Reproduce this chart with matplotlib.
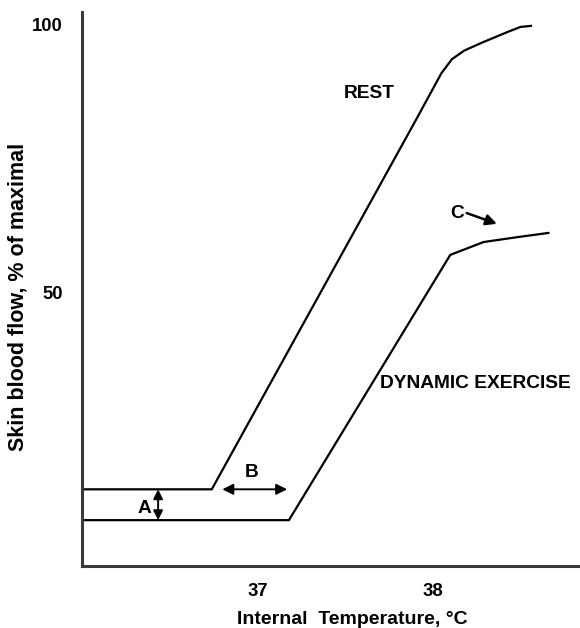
import matplotlib
matplotlib.use("Agg")
import matplotlib.pyplot as plt

plt.rcParams['font.family'] = ['Liberation Sans', 'DejaVu Sans']
plt.rcParams['font.weight'] = 'bold'

# Skin blood flow (% of maximal) vs internal temperature (°C)
rest_temp = [36.0, 36.74, 37.91, 38.05, 38.11, 38.18, 38.29, 38.43, 38.50, 38.56]
rest_flow = [13.4, 13.4, 82.6, 91.0, 93.6, 95.2, 96.8, 98.7, 99.6, 99.8]

exercise_temp = [36.0, 37.18, 38.10, 38.29, 38.48, 38.66]
exercise_flow = [7.65, 7.65, 57.1, 59.5, 60.4, 61.2]

x_ticks = [37, 38]
x_tick_labels = ["37", "38"]
y_ticks = [50, 100]
y_tick_labels = ["50", "100"]

fig = plt.figure(figsize=(5.8, 6.28), dpi=100)
ax = fig.add_axes([0.1414, 0.0987, 0.8586, 0.8823])

ax.plot(rest_temp, rest_flow, color='black', lw=1.6, solid_joinstyle='miter')
ax.plot(exercise_temp, exercise_flow, color='black', lw=1.6, solid_joinstyle='miter')

ax.set_xlim(36.0, 38.84)
ax.set_ylim(-0.9, 102.4)

ax.set_xticks(x_ticks)
ax.set_xticklabels(x_tick_labels)
ax.set_yticks(y_ticks)
ax.set_yticklabels(y_tick_labels)
ax.tick_params(axis='both', length=0, labelsize=13.3)
ax.tick_params(axis='x', pad=12)
ax.tick_params(axis='y', pad=14)

for side in ('top', 'right'):
    ax.spines[side].set_visible(False)
for side in ('left', 'bottom'):
    ax.spines[side].set_linewidth(2.2)
    ax.spines[side].set_color('#3a3a3a')

ax.set_xlabel("Internal  Temperature, °C", fontsize=14, fontweight='bold')
ax.xaxis.set_label_coords(0.542, -0.082)
ax.set_ylabel("Skin blood flow, % of maximal", fontsize=15.5, fontweight='bold')
ax.yaxis.set_label_coords(-0.108, 0.486)

txt = dict(fontsize=13.8, fontweight='bold', color='black')
ax.text(37.64, 87.1, "REST", ha='center', va='center', **txt)
ax.text(37.70, 33.2, "DYNAMIC EXERCISE", ha='left', va='center', **txt)
ax.text(38.137, 64.9, "C", ha='center', va='center', **txt)
ax.text(36.354, 9.9, "A", ha='center', va='center', **txt)
ax.text(36.966, 16.6, "B", ha='center', va='center', **txt)

# A: vertical shift of the threshold baseline
ax.annotate("", xy=(36.434, rest_flow[0]), xytext=(36.434, exercise_flow[0]),
            arrowprops=dict(arrowstyle='<|-|>', color='black', lw=1.4,
                            mutation_scale=14, shrinkA=0, shrinkB=0))
# B: shift of the temperature threshold
ax.annotate("", xy=(36.80, rest_flow[1]), xytext=(37.17, rest_flow[1]),
            arrowprops=dict(arrowstyle='<|-|>', color='black', lw=1.4,
                            mutation_scale=16, shrinkA=0, shrinkB=0))
# C: plateau pointer
ax.annotate("", xy=(38.366, 62.9), xytext=(38.194, 64.9),
            arrowprops=dict(arrowstyle='-|>', color='black', lw=1.8,
                            mutation_scale=16, shrinkA=0, shrinkB=0))

fig.savefig("out.png", dpi=100)
